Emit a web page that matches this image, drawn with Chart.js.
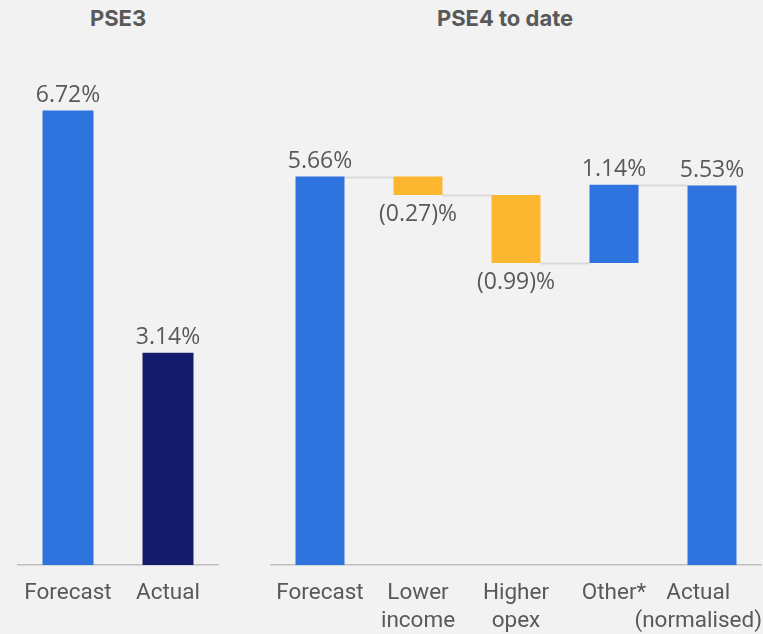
<!DOCTYPE html>
<html>
<head>
<meta charset="utf-8">
<script src="https://cdn.jsdelivr.net/npm/chart.js@4"></script>
<style>
  body{margin:0;background:#f2f2f2;width:763px;height:634px;overflow:hidden;position:relative;font-family:Roboto,sans-serif}
  .ttl{position:absolute;top:5px;font:700 22px Inter,sans-serif;color:#595959;text-align:center}
  #wrapL{position:absolute;left:0;top:0;width:240px;height:634px}
  #wrapR{position:absolute;left:262px;top:0;width:501px;height:634px}
</style>
</head>
<body>
<div class="ttl" style="left:18px;width:200px">PSE3</div>
<div class="ttl" style="left:355px;width:300px">PSE4 to date</div>
<div id="wrapL"><canvas id="left"></canvas></div>
<div id="wrapR"><canvas id="right"></canvas></div>
<script>
// PSE3
const pse3Labels = ['Forecast','Actual'];
const pse3Values = [6.72, 3.14];
const pse3Colors = ['#2f73de','#151c6b'];

// PSE4 to date (waterfall): first and last are totals, middle are steps
const pse4Labels = [['Forecast'],['Lower','income'],['Higher','opex'],['Other*'],['Actual','(normalised)']];
const pse4Values = [5.66, -0.27, -0.99, 1.14, 5.53];
const pse4Text = ['5.66%','(0.27)%','(0.99)%','1.14%','5.53%'];

const BLUE='#2f73de', ORANGE='#fdb62f', GREY='#595959';

// floating ranges for waterfall
let run=0;
const pse4Ranges = pse4Values.map((v,i)=>{
  if (i===0 || i===pse4Values.length-1){ run=v; return [0,v]; }
  const r=[run, run+v]; run+=v; return r;
});
const pse4Colors = pse4Values.map((v,i)=> (i>0 && i<pse4Values.length-1 && v<0) ? ORANGE : BLUE);

const valueLabels = {
  id:'valueLabels',
  afterDatasetsDraw(chart, args, opts){
    const ctx=chart.ctx, meta=chart.getDatasetMeta(0), ds=chart.data.datasets[0];
    ctx.save();
    ctx.font='23px "Open Sans", sans-serif';
    ctx.fillStyle=GREY; ctx.textAlign='center';
    meta.data.forEach((bar,i)=>{
      const d=ds.data[i];
      const neg = Array.isArray(d) && d[1]<d[0];
      const txt=opts.text[i];
      const top=Math.min(bar.y,bar.base), bot=Math.max(bar.y,bar.base);
      if (neg){ ctx.textBaseline='top'; ctx.fillText(txt, bar.x, bot+8); }
      else { ctx.textBaseline='bottom'; ctx.fillText(txt, bar.x, top-4); }
    });
    ctx.restore();
  }
};

// category labels, kept inside the canvas when they would overflow
const catLabels = {
  id:'catLabels',
  afterDraw(chart){
    const ctx=chart.ctx, xs=chart.scales.x, W=chart.width;
    ctx.save();
    ctx.font='22.5px Roboto, sans-serif';
    ctx.fillStyle=GREY; ctx.textAlign='center'; ctx.textBaseline='top';
    chart.data.labels.forEach((lab,i)=>{
      const lines=[].concat(lab);
      const w=Math.max(...lines.map(l=>ctx.measureText(l).width));
      let x=xs.getPixelForTick(i);
      if (x+w/2>W-1) x=W-1-w/2;
      lines.forEach((l,k)=> ctx.fillText(l, x, xs.top+17+k*28));
    });
    ctx.restore();
  }
};

const connectors = {
  id:'connectors',
  beforeDatasetsDraw(chart){
    const ctx=chart.ctx, meta=chart.getDatasetMeta(0), y=chart.scales.y;
    const ds=chart.data.datasets[0].data;
    ctx.save(); ctx.strokeStyle='#d9d9d9'; ctx.lineWidth=2;
    for (let i=0;i<meta.data.length-1;i++){
      const a=meta.data[i], b=meta.data[i+1];
      const lvl=ds[i][1];
      const py=Math.round(y.getPixelForValue(lvl))+0.5;
      ctx.beginPath(); ctx.moveTo(a.x+a.width/2, py); ctx.lineTo(b.x-b.width/2, py); ctx.stroke();
    }
    ctx.restore();
  }
};

function xScale(){
  return {
    offset:true,
    grid:{display:false},
    border:{display:true,color:'#bfbfbf',width:1.5},
    ticks:{display:false},
    afterFit(s){ s.height=69; s.paddingLeft=0; s.paddingRight=0; }
  };
}

new Chart(document.getElementById('left'),{
  type:'bar',
  data:{labels:pse3Labels,datasets:[{data:pse3Values,backgroundColor:pse3Colors,barPercentage:0.51,categoryPercentage:1}]},
  options:{
    responsive:true,maintainAspectRatio:false,animation:false,
    layout:{padding:{left:18,right:22,top:24,bottom:0}},
    plugins:{legend:{display:false},tooltip:{enabled:false},valueLabels:{text:pse3Values.map(v=>v.toFixed(2)+'%')}},
    scales:{x:xScale(),y:{display:false,min:0,max:8}}
  },
  plugins:[valueLabels,catLabels]
});

new Chart(document.getElementById('right'),{
  type:'bar',
  data:{labels:pse4Labels,datasets:[{data:pse4Ranges,backgroundColor:pse4Colors,barPercentage:0.5,categoryPercentage:1}]},
  options:{
    responsive:true,maintainAspectRatio:false,animation:false,
    layout:{padding:{left:9,right:2,top:16,bottom:0}},
    plugins:{legend:{display:false},tooltip:{enabled:false},valueLabels:{text:pse4Text}},
    scales:{x:xScale(),y:{display:false,min:0,max:8}}
  },
  plugins:[valueLabels,connectors,catLabels]
});
</script>
</body>
</html>
